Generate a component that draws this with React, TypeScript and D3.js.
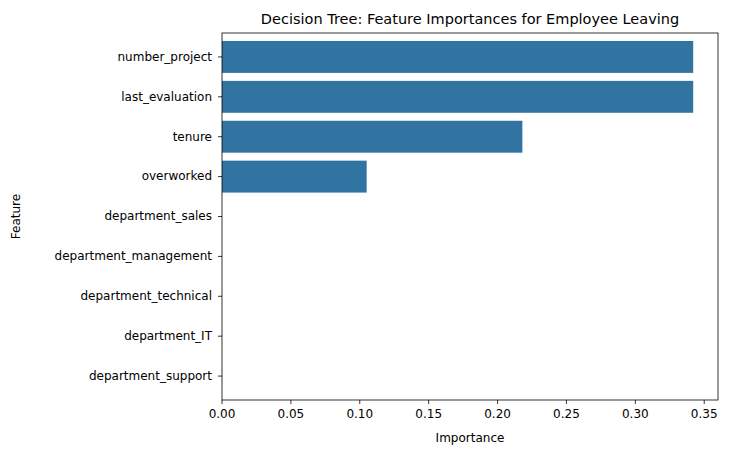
import * as d3 from "d3";

const features = [
  "number_project",
  "last_evaluation",
  "tenure",
  "overworked",
  "department_sales",
  "department_management",
  "department_technical",
  "department_IT",
  "department_support",
];
const importances = [0.342, 0.342, 0.218, 0.105, 0, 0, 0, 0, 0];
const xTicks = [0, 0.05, 0.1, 0.15, 0.2, 0.25, 0.3, 0.35];

const WIDTH = 735;
const HEIGHT = 455;
const MARGIN = { top: 33, right: 17, bottom: 55, left: 222 };

export default function App() {
  const boundsWidth = WIDTH - MARGIN.left - MARGIN.right;
  const boundsHeight = HEIGHT - MARGIN.top - MARGIN.bottom;
  const xScale = d3.scaleLinear().domain([0, 0.36]).range([0, boundsWidth]);
  const yScale = d3
    .scaleBand()
    .domain(features)
    .range([0, boundsHeight])
    .padding(0.2);
  const font = "DejaVu Sans, sans-serif";

  return (
    <svg
      width={WIDTH}
      height={HEIGHT}
      style={{ position: "absolute", left: 0, top: 0, fontFamily: font }}
    >
      <text x={MARGIN.left + boundsWidth / 2} y={24} textAnchor="middle" fontSize={14.5}>
        Decision Tree: Feature Importances for Employee Leaving
      </text>
      <g transform={`translate(${MARGIN.left},${MARGIN.top})`}>
        {features.map((f, i) => (
          <rect
            key={f}
            x={0}
            y={yScale(f)}
            width={xScale(importances[i])}
            height={yScale.bandwidth()}
            fill="#3274a1"
          />
        ))}
        <rect x={0} y={0} width={boundsWidth} height={boundsHeight} fill="none" stroke="#000" strokeWidth={0.8} />
        {features.map((f) => {
          const y = (yScale(f) ?? 0) + yScale.bandwidth() / 2;
          return (
            <g key={f} transform={`translate(0,${y})`}>
              <line x1={-4} x2={0} stroke="#000" strokeWidth={0.8} />
              <text x={-10} dy="0.32em" textAnchor="end" fontSize={12}>
                {f}
              </text>
            </g>
          );
        })}
        {xTicks.map((t) => (
          <g key={t} transform={`translate(${xScale(t)},${boundsHeight})`}>
            <line y2={4} stroke="#000" strokeWidth={0.8} />
            <text y={18} textAnchor="middle" fontSize={12}>
              {t.toFixed(2)}
            </text>
          </g>
        ))}
        <text x={boundsWidth / 2} y={boundsHeight + 42} textAnchor="middle" fontSize={12}>
          Importance
        </text>
        <text
          transform={`translate(${-202},${boundsHeight / 2}) rotate(-90)`}
          textAnchor="middle"
          fontSize={12}
        >
          Feature
        </text>
      </g>
    </svg>
  );
}
